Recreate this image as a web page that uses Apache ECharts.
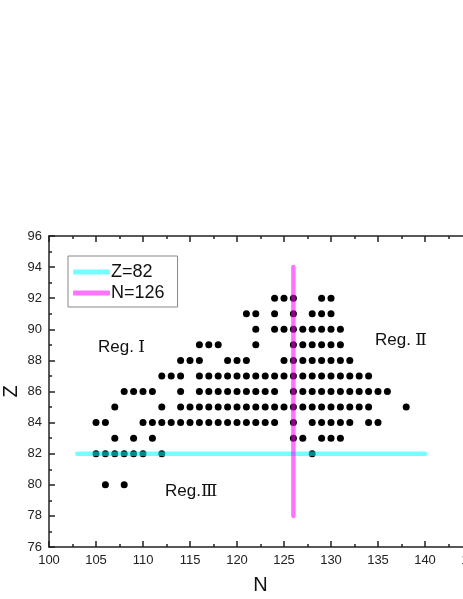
<!DOCTYPE html>
<html>
<head>
<meta charset="utf-8">
<script src="https://cdn.jsdelivr.net/npm/echarts@6/dist/echarts.min.js"></script>
<style>
  html, body { margin: 0; padding: 0; background: #fff; }
  #chart { width: 463px; height: 599px; }
</style>
</head>
<body>
<div id="chart"></div>
<script>
// neutron numbers N of the nuclei, one array per proton number Z
const n92 = [124, 125, 126, 129, 130];
const n91 = [121, 122, 124, 126, 128, 129, 130];
const n90 = [122, 124, 125, 126, 127, 128, 129, 130, 131];
const n89 = [116, 117, 118, 122, 126, 127, 128, 129, 130, 131];
const n88 = [114, 115, 116, 119, 120, 121, 125, 126, 127, 128, 129, 130, 131, 132];
const n87 = [112, 113, 114, 116, 117, 118, 119, 120, 121, 122, 123, 124, 125, 126, 127, 128, 129, 130, 131, 132, 133, 134];
const n86 = [108, 109, 110, 111, 114, 116, 117, 118, 119, 120, 121, 122, 123, 124, 126, 127, 128, 129, 130, 131, 132, 133, 134, 135, 136];
const n85 = [107, 112, 114, 115, 116, 117, 118, 119, 120, 121, 122, 123, 124, 125, 126, 127, 128, 129, 130, 131, 132, 133, 134, 138];
const n84 = [105, 106, 110, 111, 112, 113, 114, 115, 116, 117, 118, 119, 120, 121, 122, 123, 124, 126, 128, 129, 130, 131, 132, 134, 135];
const n83 = [107, 109, 111, 126, 127, 129, 130, 131];
const n82 = [105, 106, 107, 108, 109, 110, 112, 128];
const n80 = [106, 108];

const zRows = [92, 91, 90, 89, 88, 87, 86, 85, 84, 83, 82, 80];
const nRows = [n92, n91, n90, n89, n88, n87, n86, n85, n84, n83, n82, n80];

// magic number lines
const lineZ82 = [[103, 82], [140, 82]];
const lineN126 = [[126, 78], [126, 94]];

const points = [];
zRows.forEach((z, i) => {
  nRows[i].forEach(n => points.push([n, z]));
});

const chart = echarts.init(document.getElementById('chart'));

const axisColor = '#222';
const labelFont = { fontFamily: 'Liberation Sans, Arial, sans-serif', fontSize: 13, color: '#222' };

const romanFont = 'Liberation Serif, DejaVu Serif, serif';
const regStyle = (numeral) => ({
  text: '{a|Reg.}{b|' + numeral + '}',
  rich: {
    a: { fontFamily: 'Liberation Sans, Arial, sans-serif', fontSize: 17, fill: '#111' },
    b: { fontFamily: romanFont, fontSize: 17, fill: '#111' }
  },
  verticalAlign: 'middle'
});

const option = {
  animation: false,
  backgroundColor: '#fff',
  grid: { left: 49, top: 236, right: -9, bottom: 52, outerBoundsMode: 'none', containLabel: false },
  legend: {
    left: 68,
    top: 256,
    orient: 'vertical',
    data: ['Z=82', 'N=126'],
    icon: 'roundRect',
    itemWidth: 37,
    itemHeight: 5,
    itemGap: 1,
    padding: [6, 13, 4, 5],
    borderColor: '#888',
    borderWidth: 1,
    backgroundColor: '#fff',
    textStyle: { fontFamily: 'Liberation Sans, Arial, sans-serif', fontSize: 18, color: '#111', lineHeight: 20, padding: [0, 0, 0, -4] }
  },
  xAxis: [{
    type: 'value',
    min: 100,
    max: 145,
    interval: 5,
    name: 'N',
    nameLocation: 'middle',
    nameGap: 28,
    nameMoveOverlap: false,
    nameTextStyle: { fontFamily: 'Liberation Sans, Arial, sans-serif', fontSize: 20, color: '#111' },
    axisLine: { show: true, onZero: false, lineStyle: { color: axisColor, width: 1.5 } },
    axisTick: { show: true, inside: true, length: 6, lineStyle: { color: axisColor, width: 1.5 } },
    minorTick: { show: true, splitNumber: 2, length: 3, lineStyle: { color: axisColor, width: 1.5 } },
    axisLabel: Object.assign({ margin: 7 }, labelFont),
    splitLine: { show: false }
  }, {
    type: 'value',
    position: 'top',
    min: 100,
    max: 145,
    interval: 5,
    axisLine: { show: true, onZero: false, lineStyle: { color: axisColor, width: 1.5 } },
    axisTick: { show: true, inside: true, length: 6, lineStyle: { color: axisColor, width: 1.5 } },
    minorTick: { show: true, splitNumber: 2, length: 3, lineStyle: { color: axisColor, width: 1.5 } },
    axisLabel: { show: false },
    splitLine: { show: false }
  }],
  yAxis: {
    type: 'value',
    min: 76,
    max: 96,
    interval: 2,
    name: 'Z',
    nameLocation: 'middle',
    nameGap: 28,
    nameMoveOverlap: false,
    nameTextStyle: { fontFamily: 'Liberation Sans, Arial, sans-serif', fontSize: 20, color: '#111' },
    axisLine: { show: true, onZero: false, lineStyle: { color: axisColor, width: 1.5 } },
    axisTick: { show: true, inside: true, length: 6, lineStyle: { color: axisColor, width: 1.5 } },
    minorTick: { show: true, splitNumber: 2, length: 3, lineStyle: { color: axisColor, width: 1.5 } },
    axisLabel: Object.assign({ margin: 7 }, labelFont),
    splitLine: { show: false }
  },
  series: [{
    name: 'nuclei',
    type: 'scatter',
    data: points,
    symbol: 'circle',
    symbolSize: 7,
    itemStyle: { color: '#000', opacity: 1 },
    z: 2
  }, {
    name: 'Z=82',
    type: 'line',
    data: lineZ82,
    symbol: 'none',
    color: 'rgba(0,255,255,0.55)',
    lineStyle: { width: 4.5, cap: 'round', color: 'rgba(0,255,255,0.55)' },
    z: 3
  }, {
    name: 'N=126',
    type: 'line',
    data: lineN126,
    symbol: 'none',
    color: 'rgba(255,0,255,0.55)',
    lineStyle: { width: 4.5, cap: 'round', color: 'rgba(255,0,255,0.55)' },
    z: 3
  }],
  graphic: [
    { type: 'text', left: 98, top: 339, style: regStyle(' Ⅰ') },
    { type: 'text', left: 375, top: 332, style: regStyle(' Ⅱ') },
    { type: 'text', left: 165, top: 483, style: regStyle('Ⅲ') }
  ]
};

chart.setOption(option);
</script>
</body>
</html>
